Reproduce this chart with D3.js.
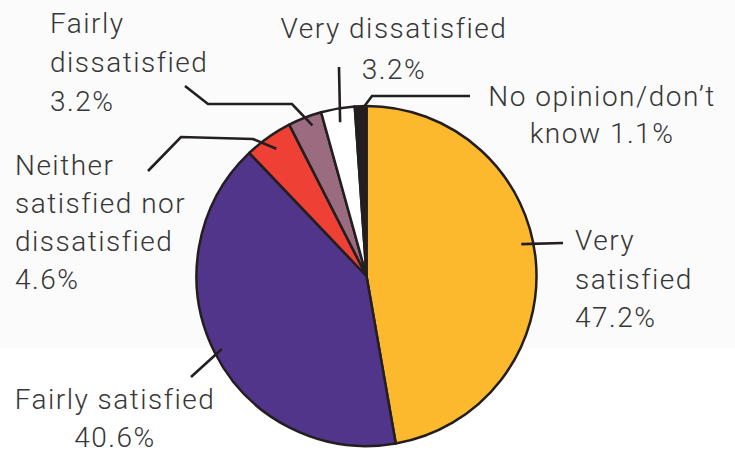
<!DOCTYPE html>
<html>
<head>
<meta charset="utf-8">
<script src="https://cdn.jsdelivr.net/npm/d3@7"></script>
<style>
  html, body { margin: 0; padding: 0; background: #ffffff; }
  svg { display: block; }
</style>
</head>
<body>
<script>
// ---- data ----
const categories = ["Very satisfied", "Fairly satisfied", "Neither satisfied nor dissatisfied",
                    "Fairly dissatisfied", "Very dissatisfied", "No opinion/don’t know"];
const values = [47.2, 40.6, 4.6, 3.2, 3.2, 1.1];
const colors = ["#FDB92D", "#51358A", "#EE4035", "#9B6B80", "#FFFFFF", "#231F20"];

// ---- layout (label text lines, positions, leader bends) ----
const labelLines = [
  ["Very", "satisfied", "{v}"],
  ["Fairly satisfied", "{v}"],
  ["Neither", "satisfied nor", "dissatisfied", "{v}"],
  ["Fairly", "dissatisfied", "{v}"],
  ["Very dissatisfied", "{v}"],
  ["No opinion/don’t", "know {v}"]
];
const labelLayout = [
  {x: 575, y: 250, lh: 38.5, anchor: "start"},
  {x: 115, y: 409, lh: 37.5, anchor: "middle"},
  {x: 15,  y: 175, lh: 38, anchor: "start"},
  {x: 50,  y: 33,  lh: 39, anchor: "start"},
  {x: 394, y: 38,  lh: 41, anchor: "middle"},
  {x: 602, y: 106, lh: 37, anchor: "middle"}
];
// leader: start at slice mid-angle (+ nudge, degrees) at radius r, then bend points
const leaderLayout = [
  {nudge: -6.7, r: 158, bends: [[563, 243]]},
  {nudge: 0, r: 162, bends: [[191, 377]]},
  {nudge: 0, r: 156, bends: [[253, 139], [181, 137], [148, 171]]},
  {nudge: 1.5, r: 160, bends: [[292, 104], [208, 104], [185, 86]]},
  {nudge: 0, r: 156, bends: [[339, 67]]},
  {nudge: 0.8, r: 168, bends: [[372, 96], [470, 96]]}
];

const W = 735, H = 451;
const cx = 366.5, cy = 276, R = 170;

const svg = d3.select("body").append("svg")
  .attr("width", W).attr("height", H)
  .attr("viewBox", `0 0 ${W} ${H}`);

svg.append("rect").attr("x", 0).attr("y", 0).attr("width", W).attr("height", 348)
  .attr("fill", "#fbfbfb");

const data = categories.map((c, i) => ({cat: c, value: values[i], color: colors[i], i}));

const pie = d3.pie().sort(null).value(d => d.value).startAngle(0).endAngle(2 * Math.PI);
const arcs = pie(data);
const arc = d3.arc().innerRadius(0).outerRadius(R);

const g = svg.append("g").attr("transform", `translate(${cx},${cy})`);
g.selectAll("path.slice")
  .data(arcs)
  .join("path")
  .attr("class", "slice")
  .attr("d", arc)
  .attr("fill", d => d.data.color)
  .attr("stroke", "#231F20")
  .attr("stroke-width", 2.5)
  .attr("stroke-linejoin", "round");

// leaders
const line = d3.line();
arcs.forEach((a, i) => {
  const L = leaderLayout[i];
  const mid = (a.startAngle + a.endAngle) / 2 + L.nudge * Math.PI / 180;
  const sx = cx + L.r * Math.sin(mid);
  const sy = cy - L.r * Math.cos(mid);
  const pts = [[sx, sy], ...L.bends];
  svg.append("path")
    .attr("d", line(pts))
    .attr("fill", "none")
    .attr("stroke", "#231F20")
    .attr("stroke-width", 2.6)
    .attr("stroke-linejoin", "miter");
});

// labels
const fmt = v => d3.format(".1f")(v) + "%";
data.forEach((d, i) => {
  const Lo = labelLayout[i];
  const t = svg.append("text")
    .attr("font-family", "Roboto, 'DejaVu Sans', sans-serif")
    .attr("font-weight", 300)
    .attr("font-size", 28)
    .attr("letter-spacing", 1.5)
    .attr("fill", "#363636")
    .attr("text-anchor", Lo.anchor);
  labelLines[i].forEach((ln, k) => {
    t.append("tspan")
      .attr("x", Lo.x)
      .attr("y", Lo.y + k * Lo.lh)
      .text(ln.replace("{v}", fmt(d.value)));
  });
});
</script>
</body>
</html>
